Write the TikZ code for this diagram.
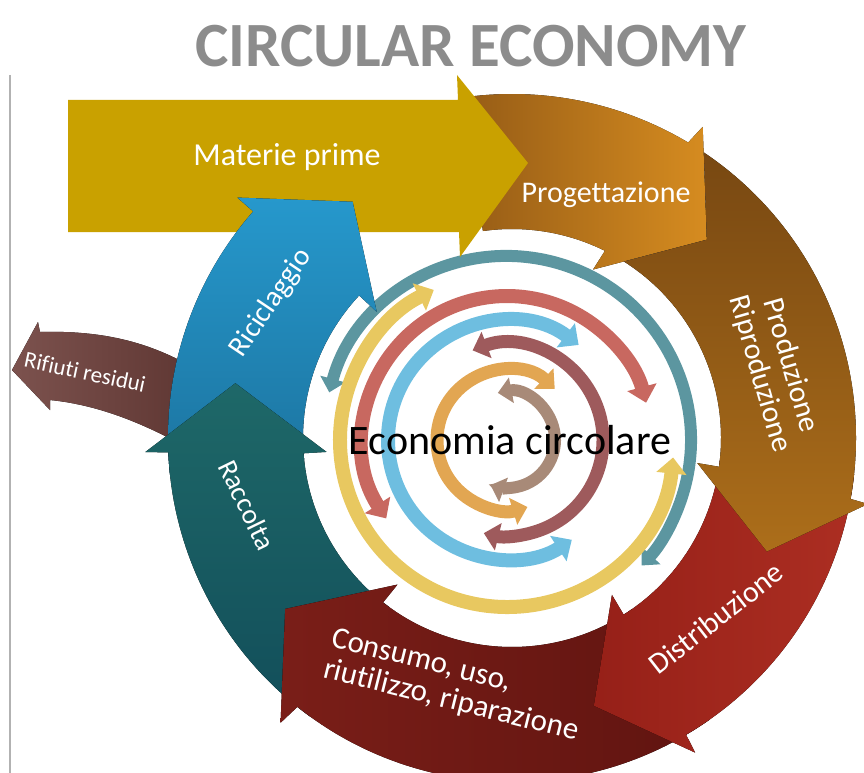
\documentclass[tikz,border=0pt]{standalone}
\usepackage{fontspec}
\setmainfont{Carlito}[Ligatures={TeX,NoCommon}]
\usetikzlibrary{arrows.meta,calc}

\definecolor{ringteal}{RGB}{92,150,160}
\definecolor{ringyellow}{RGB}{232,200,96}
\definecolor{ringsalmon}{RGB}{200,104,96}
\definecolor{ringblue}{RGB}{110,190,224}
\definecolor{ringrose}{RGB}{158,90,92}
\definecolor{ringorange}{RGB}{226,166,82}
\definecolor{ringbrown}{RGB}{168,138,120}
\definecolor{matgold}{RGB}{201,161,0}
\definecolor{progL}{RGB}{150,92,22}
\definecolor{progR}{RGB}{214,140,32}
\definecolor{prodT}{RGB}{120,72,18}
\definecolor{prodB}{RGB}{172,110,26}
\definecolor{distL}{RGB}{150,32,24}
\definecolor{distR}{RGB}{172,46,34}
\definecolor{consL}{RGB}{122,30,24}
\definecolor{consR}{RGB}{96,20,16}
\definecolor{raccT}{RGB}{30,104,104}
\definecolor{raccB}{RGB}{18,78,90}
\definecolor{ricT}{RGB}{38,152,204}
\definecolor{ricB}{RGB}{28,116,160}
\definecolor{rifL}{RGB}{124,82,78}
\definecolor{rifR}{RGB}{92,52,48}
\definecolor{titlegray}{RGB}{140,140,140}

\begin{document}
\begin{tikzpicture}[
  x=1pt,y=1pt,
  ringarc/.style={line width=#1, {Triangle[width=0pt 2.1,length=0pt 1.15]}-{Triangle[width=0pt 2.1,length=0pt 1.15]}},
  seglabel/.style={text=white, align=center, inner sep=0pt},
  stagefont/.style={font=\fontsize{#1}{#1}\selectfont}
]
\useasboundingbox (0,0) rectangle (864,-773);

% title and frame line
\node[text=titlegray, font=\fontsize{63}{63}\selectfont\bfseries] (title) at (471,-46) {CIRCULAR ECONOMY};
\draw[black!30, line width=1.5] (10,-75) -- (10,-773);

% inner double-headed rings
\begin{scope}[shift={(507,-440)}]
  \draw[ringarc=12, ringteal] (165:184) arc[start angle=165, end angle=-43, radius=184];
  \draw[ringarc=14, ringyellow] (354:167) arc[start angle=354, end angle=116, radius=167];
  \draw[ringarc=14, ringsalmon] (213:144) arc[start angle=213, end angle=15, radius=144];
  \draw[ringarc=14, ringblue] (53:119) arc[start angle=53, end angle=303, radius=119];
  \draw[ringarc=13, ringrose] (111:96) arc[start angle=111, end angle=-104, radius=96];
  \draw[ringarc=13, ringorange] (47:70) arc[start angle=47, end angle=287, radius=70];
  \draw[ringarc=12, ringbrown] (101:48) arc[start angle=101, end angle=-110, radius=48];
\end{scope}

% outer ring of block arrows, clockwise
\begin{scope}[shift={(512,-438)}]
  % Progettazione
  \fill[left color=progL, right color=progR] (98:344) arc[start angle=98, end angle=59.2, radius=344]
    -- (58.5:365) -- (45.5:278) -- (64.3:187) -- (63.6:209) arc[start angle=63.6, end angle=98, radius=209] -- cycle;
\end{scope}

% Materie prime
\fill[matgold] (68,-100) -- (458,-100) -- (457,-75) -- (528,-163) -- (460,-257) -- (459,-232) -- (68,-232) -- cycle;

% Rifiuti residui
\fill[left color=rifL, right color=rifR] (40,-332) .. controls (110,-330) and (160,-345) .. (210,-378)
  -- (205,-458) .. controls (150,-425) and (100,-405) .. (50,-400) -- (50,-410) -- (12,-370) -- (38,-322) -- cycle;

\begin{scope}[shift={(512,-438)}]
  % Riciclaggio
  \fill[top color=ricT, bottom color=ricB] (186:344) arc[start angle=186, end angle=138.8, radius=344]
    -- (138.8:365) -- (124:285) -- (137:185) -- (137:209) arc[start angle=137, end angle=186, radius=209] -- cycle;
  % Raccolta
  \fill[top color=raccT, bottom color=raccB] (234:344) arc[start angle=234, end angle=182.4, radius=344]
    -- (182.2:367) -- (168.8:282) -- (184.3:186) -- (184.2:209) arc[start angle=184.2, end angle=234, radius=209] -- cycle;
  % Consumo
  \fill[left color=consL, right color=consR] (-55:344) arc[start angle=-55, end angle=-128.6, radius=344]
    -- (-129.1:367) -- (-143:284) -- (-128:186) -- (-128.1:209) arc[start angle=-128.1, end angle=-55, radius=209] -- cycle;
  % Distribuzione
  \fill[left color=distL, right color=distR] (-6:344) arc[start angle=-6, end angle=-59.6, radius=344]
    -- (-59.8:364) -- (-73:280) -- (-57.5:186) -- (-57.7:209) arc[start angle=-57.7, end angle=-6, radius=209] -- cycle;
  % Produzione, notched round the head of Progettazione
  \fill[top color=prodT, bottom color=prodB] (56.1:344) arc[start angle=56.1, end angle=-10.2, radius=344]
    -- (-10.5:362) -- (-24:279) -- (-7.7:187) -- (-7.9:209) arc[start angle=-7.9, end angle=57.6, radius=209]
    -- (45.5:278) -- cycle;
\end{scope}

% labels
\node[seglabel, stagefont=32] (mat) at (287,-157) {Materie prime};
\node[seglabel, stagefont=30] (prog) at (606,-195) {Progettazione};
\node[seglabel, stagefont=30, rotate=-74] (prod) at (775,-370) {Produzione\\[2pt]Riproduzione};
\node[seglabel, stagefont=30, rotate=38] (dist) at (716,-618) {Distribuzione};
\node[seglabel, stagefont=31, rotate=-14, align=left] (cons) at (455,-686) {Consumo, uso,\\[1pt]riutilizzo, riparazione};
\node[seglabel, stagefont=28, rotate=-64] (racc) at (247,-505) {Raccolta};
\node[seglabel, stagefont=29, rotate=56] (ricic) at (271,-303) {Riciclaggio};
\node[seglabel, stagefont=23, rotate=-12] (rifiuti) at (85,-372) {Rifiuti residui};
\node[text=black, inner sep=0pt, stagefont=42] (eco) at (510,-440) {Economia circolare};

\end{tikzpicture}
\end{document}
